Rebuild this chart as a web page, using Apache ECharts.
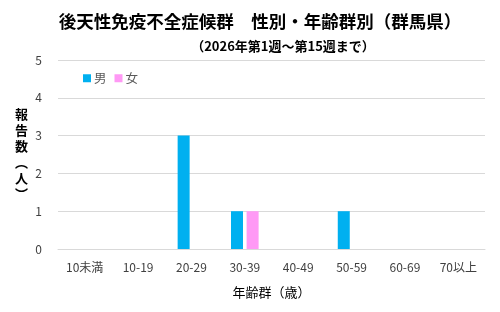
<!DOCTYPE html>
<html><head><meta charset="utf-8">
<script src="https://cdn.jsdelivr.net/npm/echarts@6/dist/echarts.min.js"></script>
<style>html,body{margin:0;padding:0;background:#fff}#c{width:500px;height:312px}</style>
</head><body><div id="c"></div>
<script>
const categories = ['10未満','10-19','20-29','30-39','40-49','50-59','60-69','70以上'];
const male = [0,0,3,1,0,1,0,0];
const female = [0,0,0,1,0,0,0,0];
const yTicks = [0,1,2,3,4,5];
const FONT = '"Noto Sans CJK JP", "Noto Sans", sans-serif';
const chart = echarts.init(document.getElementById('c'));
chart.setOption({
  animation:false,
  textStyle:{fontFamily:FONT},
  title:[
    {text:'後天性免疫不全症候群　性別・年齢群別（群馬県）',left:255,textAlign:'center',top:8,
     textStyle:{fontSize:17.5,fontWeight:'bold',color:'#000',fontFamily:FONT}},
    {text:'（2026年第1週～第15週まで）',left:278,textAlign:'center',top:35,
     textStyle:{fontSize:13,fontWeight:'bold',color:'#000',fontFamily:FONT}}
  ],
  legend:{left:78,top:67,itemWidth:8,itemHeight:8,itemGap:8,icon:'rect',
    textStyle:{fontSize:12.5,color:'#595959',padding:[0,0,0,-2]},data:['男','女']},
  grid:{left:58,right:15,top:60,bottom:63},
  xAxis:{type:'category',data:categories,
    axisLine:{lineStyle:{color:'#d9d9d9'}},axisTick:{show:false},
    axisLabel:{color:'#404040',fontSize:12,margin:12},
    name:'年齢群（歳）',nameLocation:'middle',nameGap:37,
    nameTextStyle:{fontSize:13,color:'#000'}},
  yAxis:{type:'value',min:0,max:5,interval:1,
    axisLine:{show:false},axisTick:{show:false},
    axisLabel:{color:'#404040',fontSize:12,margin:16},
    splitLine:{lineStyle:{color:'#d9d9d9'}},
    name:'報\n告\n数\n︵\n人\n︶',nameLocation:'middle',nameRotate:0,nameGap:30,
    nameTextStyle:{fontSize:13,color:'#000',fontWeight:'bold',lineHeight:16}},
  series:[
    {name:'男',type:'bar',data:male,barWidth:12,barGap:'30%',itemStyle:{color:'#00B0F0'}},
    {name:'女',type:'bar',data:female,barWidth:12,itemStyle:{color:'#FF99F5'}}
  ]
});
</script></body></html>
